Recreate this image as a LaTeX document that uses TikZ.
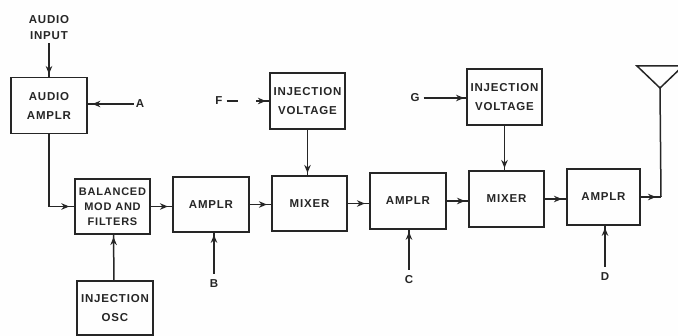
\documentclass[tikz,border=0pt]{standalone}
\usepackage{fontspec}
\setmainfont[LetterSpace=7]{Liberation Sans}
\usetikzlibrary{arrows.meta,decorations.markings,calc}
\definecolor{ink}{HTML}{262626}
\definecolor{paper}{HTML}{FEFEFE}
\tikzset{
  x=1pt,y=-1pt,
  every node/.style={text=ink,font=\fontsize{11.5}{19}\selectfont\bfseries,align=center,inner sep=0pt},
  block/.style={draw=ink,line width=1.6pt,minimum width=#1,minimum height=56pt},
  block/.default=75pt,
  tag/.style={},
  wire/.style={draw=ink,line width=1.5pt},
  flow/.style={wire,postaction={decorate},decoration={markings,
    mark=at position #1 with {\arrow{Stealth[length=8pt,width=6.5pt]}}}},
  flow/.default=0.9
}
\begin{document}
\begin{tikzpicture}
\useasboundingbox (0,0) rectangle (678,336);
\fill[paper] (0,0) rectangle (678,336);
% blocks
\node[block=76pt] (audio) at (49,105.5) {AUDIO\\AMPLR};
\node[block,minimum height=55pt,font=\fontsize{11}{15}\selectfont\bfseries] (bal) at (112.5,206.5) {BALANCED\\MOD AND\\FILTERS};
\node[block=76pt,minimum height=54pt] (osc) at (115,308) {INJECTION\\OSC};
\node[block=76pt,minimum height=55pt] (amp1) at (211,204.5) {AMPLR};
\node[block] (inj1) at (307.5,101) {INJECTION\\VOLTAGE};
\node[block,minimum height=55pt] (mix1) at (309.5,203.5) {MIXER};
\node[block=76pt] (amp2) at (408,201) {AMPLR};
\node[block] (inj2) at (504.5,97) {INJECTION\\VOLTAGE};
\node[block] (mix2) at (506.5,199) {MIXER};
\node[block=73pt] (amp3) at (603.5,197) {AMPLR};
% labels
\node[tag] (in) at (49,28) [font=\fontsize{11.5}{16}\selectfont\bfseries] {AUDIO\\INPUT};
\node[tag] (a) at (140,104) {A};
\node[tag] (b) at (214,284) {B};
\node[tag] (c) at (409,280) {C};
\node[tag] (d) at (605,277) {D};
\node[tag] (f) at (219,101) {F};
\node[tag] (g) at (415,98) {G};
% coordinates
\coordinate (fgap) at (256,101);
\coordinate (fstub) at (238,101);
\coordinate (ant) at (660,88);
\coordinate (antl) at (637,66);
\coordinate (antr) at (683,66);
\coordinate (corner) at (661,197);
% connectors
\draw[flow=0.92] (in.south) ++(0,3) -- (audio.north);
\draw[flow=0.9] (a.west) ++(-2,0) -- (a.west -| audio.east);
\draw[flow=0.95] (audio.south) |- (bal.west);
\draw[flow=0.95] (osc.north) ++(-1,0) -- ($(bal.south)+(1,0)$);
\draw[flow=0.8] (bal.east) -- (bal.east -| amp1.west);
\draw[flow=0.95] (b.north) ++(0,-6) -- (amp1.south -| b.north);
\draw[flow=0.8] (amp1.east) -- (amp1.east -| mix1.west);
\draw[flow=0.95] (inj1.south) -- (mix1.north -| inj1.south);
\draw[wire] (f.east) ++(4,0) -- (fstub);
\draw[flow=0.75] (fgap) -- (fgap -| inj1.west);
\draw[flow=0.8] (mix1.east) -- (mix1.east -| amp2.west);
\draw[flow=0.95] (c.north) ++(0,-6) -- (amp2.south -| c.north);
\draw[flow=0.85] (amp2.east) -- (amp2.east -| mix2.west);
\draw[flow=0.95] (inj2.south) -- (mix2.north -| inj2.south);
\draw[flow=0.95] (g.east) ++(4,0) -- (g.east -| inj2.west);
\draw[flow=0.8] (mix2.east) -- (mix2.east -| amp3.west);
\draw[flow=0.95] (d.north) ++(0,-6) -- (amp3.south -| d.north);
\draw[flow=0.75] (amp3.east) -- (corner);
\draw[wire] (corner) -- (ant);
\begin{scope}
\clip (0,0) rectangle (678,336);
\draw[wire,line join=miter] (antl) -- (antr) -- (ant) -- cycle;
\end{scope}
\end{tikzpicture}
\end{document}
